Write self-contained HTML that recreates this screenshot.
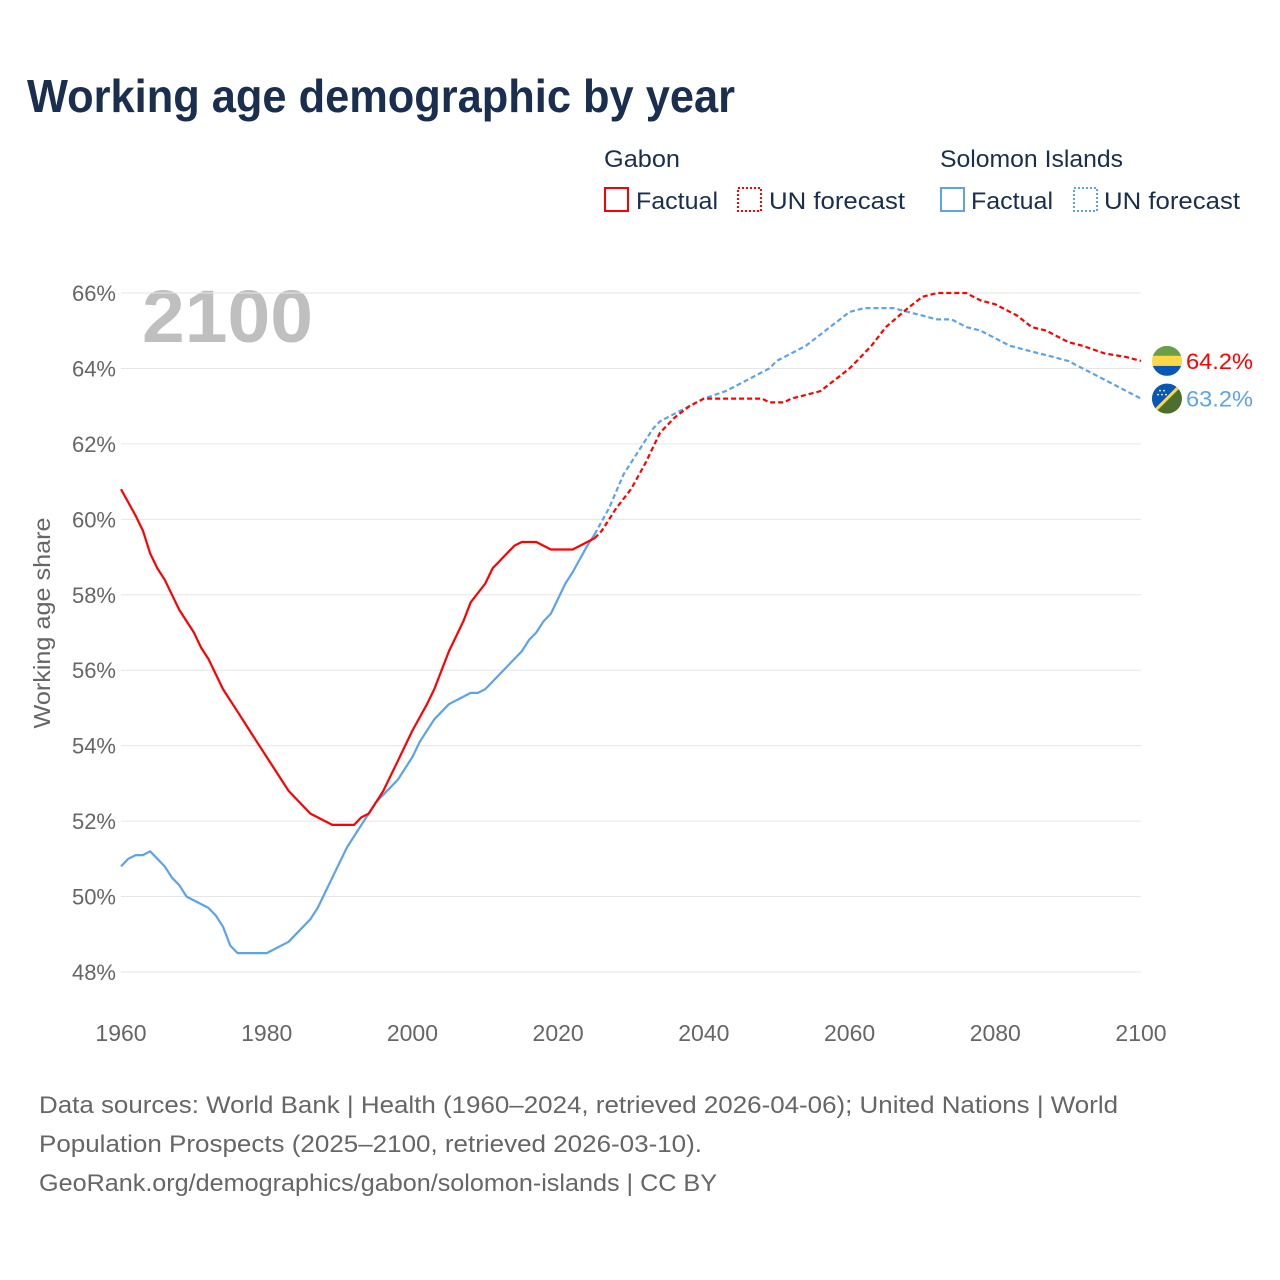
<!DOCTYPE html>
<html><head><meta charset="utf-8">
<style>
body{margin:0;background:#fff;font-family:"Liberation Sans",sans-serif;}
#wrap{position:relative;width:1280px;height:1280px;overflow:hidden;}
</style></head>
<body>
<div id="wrap">
<svg id="chart" width="1280" height="1280" xmlns="http://www.w3.org/2000/svg">
<text x="27" y="112" font-size="46" font-weight="bold" fill="#1a2e4f" textLength="708" lengthAdjust="spacingAndGlyphs">Working age demographic by year</text>
<g font-size="24" fill="#1a2e4f">
<text x="604" y="167" textLength="76" lengthAdjust="spacingAndGlyphs">Gabon</text>
<text x="940" y="167" textLength="183" lengthAdjust="spacingAndGlyphs">Solomon Islands</text>
<g><rect x="605" y="188" width="23" height="23" fill="none" stroke="#ff0000" stroke-width="2"/><text x="636" y="209" textLength="82" lengthAdjust="spacingAndGlyphs">Factual</text></g>
<g><rect x="738" y="188" width="23" height="23" fill="none" stroke="#ff0000" stroke-width="2" stroke-dasharray="2,2"/><text x="769" y="209" textLength="136" lengthAdjust="spacingAndGlyphs">UN forecast</text></g>
<g><rect x="941" y="188" width="23" height="23" fill="none" stroke="#5ba4ea" stroke-width="2"/><text x="971" y="209" textLength="82" lengthAdjust="spacingAndGlyphs">Factual</text></g>
<g><rect x="1074" y="188" width="23" height="23" fill="none" stroke="#5ba4ea" stroke-width="2" stroke-dasharray="2,2"/><text x="1104" y="209" textLength="136" lengthAdjust="spacingAndGlyphs">UN forecast</text></g>
</g>
<text x="142" y="342" font-size="74" font-weight="bold" fill="#bfbfbf" textLength="171" lengthAdjust="spacingAndGlyphs">2100</text>
<text transform="translate(50,623) rotate(-90)" text-anchor="middle" font-size="23" fill="#666" textLength="211" lengthAdjust="spacingAndGlyphs">Working age share</text>
<g id="grid"></g><g id="series"></g><g id="ends"></g>
<g font-size="24" fill="#666">
<text x="39" y="1113" textLength="1079" lengthAdjust="spacingAndGlyphs">Data sources: World Bank | Health (1960–2024, retrieved 2026-04-06); United Nations | World</text>
<text x="39" y="1152" textLength="663" lengthAdjust="spacingAndGlyphs">Population Prospects (2025–2100, retrieved 2026-03-10).</text>
<text x="39" y="1191" textLength="678" lengthAdjust="spacingAndGlyphs">GeoRank.org/demographics/gabon/solomon-islands | CC BY</text>
</g>
</svg>
</div>
<script>
const yTicks=[48,50,52,54,56,58,60,62,64,66];
const xTicks=[1960,1980,2000,2020,2040,2060,2080,2100];
const gabFactYears=[1960,1962,1963,1964,1965,1966,1967,1968,1970,1971,1972,1974,1976,1978,1980,1983,1986,1989,1992,1993,1994,1995,1996,1998,2000,2002,2003,2005,2007,2008,2010,2011,2013,2014,2015,2017,2019,2022,2024,2025];
const gabFactVals=[60.8,60.1,59.7,59.1,58.7,58.4,58.0,57.6,57.0,56.6,56.3,55.5,54.9,54.3,53.7,52.8,52.2,51.9,51.9,52.1,52.2,52.5,52.8,53.6,54.4,55.1,55.5,56.5,57.3,57.8,58.3,58.7,59.1,59.3,59.4,59.4,59.2,59.2,59.4,59.5];
const gabFcYears=[2025,2026,2028,2030,2032,2034,2036,2038,2040,2048,2049,2051,2052,2054,2056,2058,2060,2061,2063,2065,2068,2070,2072,2076,2078,2080,2083,2085,2087,2090,2092,2095,2098,2100];
const gabFcVals=[59.5,59.7,60.3,60.8,61.5,62.3,62.7,63.0,63.2,63.2,63.1,63.1,63.2,63.3,63.4,63.7,64.0,64.2,64.6,65.1,65.6,65.9,66.0,66.0,65.8,65.7,65.4,65.1,65.0,64.7,64.6,64.4,64.3,64.2];
const solFactYears=[1960,1961,1962,1963,1964,1966,1967,1968,1969,1972,1973,1974,1975,1976,1980,1983,1986,1987,1989,1991,1993,1995,1997,1998,2000,2001,2003,2005,2007,2008,2009,2010,2012,2015,2016,2017,2018,2019,2021,2022,2024,2025];
const solFactVals=[50.8,51.0,51.1,51.1,51.2,50.8,50.5,50.3,50.0,49.7,49.5,49.2,48.7,48.5,48.5,48.8,49.4,49.7,50.5,51.3,51.9,52.5,52.9,53.1,53.7,54.1,54.7,55.1,55.3,55.4,55.4,55.5,55.9,56.5,56.8,57.0,57.3,57.5,58.3,58.6,59.3,59.6];
const solFcYears=[2025,2027,2029,2031,2033,2034,2036,2038,2040,2043,2046,2049,2050,2052,2054,2056,2058,2060,2062,2066,2068,2070,2072,2074,2076,2078,2080,2082,2084,2088,2090,2093,2096,2099,2100];
const solFcVals=[59.6,60.3,61.2,61.8,62.4,62.6,62.8,63.0,63.2,63.4,63.7,64.0,64.2,64.4,64.6,64.9,65.2,65.5,65.6,65.6,65.5,65.4,65.3,65.3,65.1,65.0,64.8,64.6,64.5,64.3,64.2,63.9,63.6,63.3,63.2];
const endLabels=["64.2%","63.2%"];

const NS="http://www.w3.org/2000/svg";
const X=y=>121+(y-1960)*(1020/140);
const Y=v=>293+(66-v)*(679/18);
function mk(t,a,p){const e=document.createElementNS(NS,t);for(const k in a)e.setAttribute(k,a[k]);p.appendChild(e);return e;}
const grid=document.getElementById('grid');
yTicks.forEach(v=>{
  const l=mk('line',{x1:121,x2:1141,y1:Y(v),y2:Y(v),stroke:'#e6e6e6','stroke-width':1},grid);
  
  
  const t=mk('text',{x:116,y:Y(v)+8,'text-anchor':'end','font-size':22,fill:'#666'},grid);
  t.textContent=v+'%';
  
  
});
xTicks.forEach(y=>{
  const t=mk('text',{x:X(y),y:1041,'text-anchor':'middle','font-size':23,fill:'#666'},grid);
  t.textContent=y;
  
  
});
const ser=document.getElementById('series');
function line(ys,vs,col,dash,name){
  const d=ys.map((y,i)=>(i?'L':'M')+X(y).toFixed(1)+','+Y(vs[i]).toFixed(1)).join('');
  const p=mk('path',{d:d,fill:'none',stroke:col,'stroke-width':2.2,'stroke-linejoin':'round'},ser);
  if(dash)p.setAttribute('stroke-dasharray','5,3');
  
  
}
line(solFactYears,solFactVals,'#5ba4ea',false,'solomon-factual-line');
line(gabFactYears,gabFactVals,'#ff0000',false,'gabon-factual-line');
line(solFcYears,solFcVals,'#5ba4ea',true,'solomon-forecast-line');
line(gabFcYears,gabFcVals,'#ff0000',true,'gabon-forecast-line');

const ends=document.getElementById('ends');
const gy=Y(gabFcVals[gabFcVals.length-1]), sy=Y(solFcVals[solFcVals.length-1]);
const fx=1167;
const defs=mk('defs',{},ends);
const c1=mk('clipPath',{id:'cg'},defs);mk('circle',{cx:fx,cy:gy,r:15},c1);
const c2=mk('clipPath',{id:'cs'},defs);mk('circle',{cx:fx,cy:sy,r:15},c2);
const gf=mk('g',{'clip-path':'url(#cg)'},ends);


mk('rect',{x:fx-15,y:gy-15,width:30,height:10,fill:'#6a9f45'},gf);
mk('rect',{x:fx-15,y:gy-5,width:30,height:10,fill:'#fcd846'},gf);
mk('rect',{x:fx-15,y:gy+5,width:30,height:10,fill:'#0657b8'},gf);
const sf=mk('g',{'clip-path':'url(#cs)'},ends);


mk('rect',{x:fx-15,y:sy-15,width:30,height:30,fill:'#4c6e2f'},sf);
mk('polygon',{points:`${fx-15},${sy-15} ${fx+15},${sy-15} ${fx-15},${sy+15}`,fill:'#0657b8'},sf);
mk('line',{x1:fx+15,y1:sy-15,x2:fx-15,y2:sy+15,stroke:'#fcd846','stroke-width':3},sf);
[[-7,-8],[-3,-8],[-5,-4],[-9,-4],[-1,-4]].forEach(o=>mk('circle',{cx:fx+o[0],cy:sy+o[1],r:0.9,fill:'#fff'},sf));
const t1=mk('text',{x:1186,y:gy+8,'font-size':22,fill:'#ff0000',textLength:67,lengthAdjust:'spacingAndGlyphs'},ends);
t1.textContent=endLabels[0];


const t2=mk('text',{x:1186,y:sy+8,'font-size':22,fill:'#5ba4ea',textLength:67,lengthAdjust:'spacingAndGlyphs'},ends);
t2.textContent=endLabels[1];


</script>
</body></html>
